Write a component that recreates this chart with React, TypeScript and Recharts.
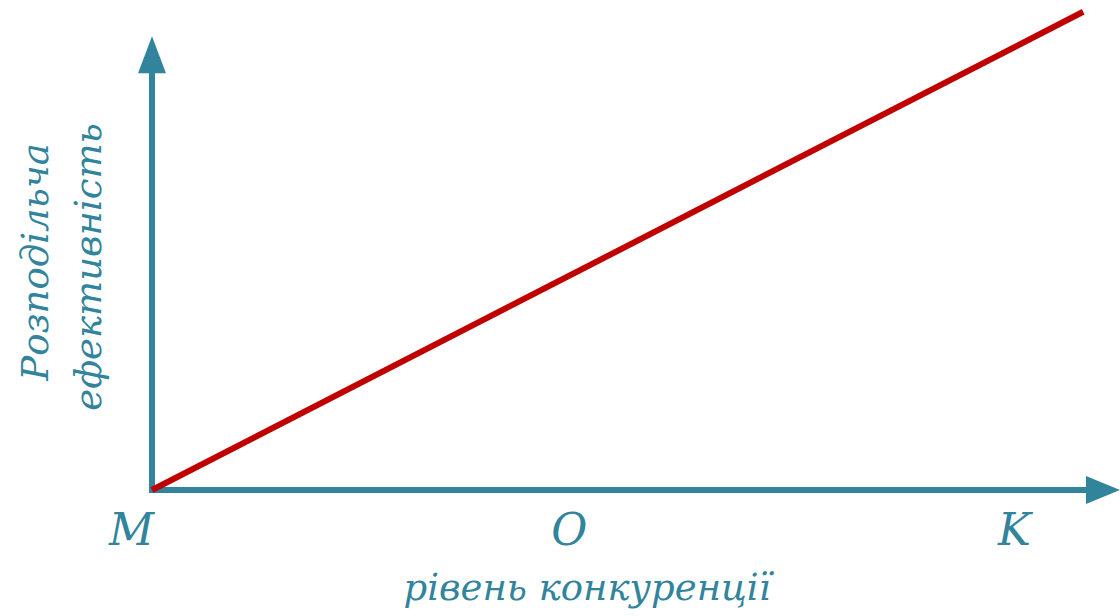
import React from "react";
import { LineChart, Line, XAxis, YAxis, ReferenceLine } from "recharts";

const TEAL = "#31849B";
const RED = "#C00000";
const FONT = "'DejaVu Serif', serif";

// x positions of the axis labels M, O, K
const tickValues = [0, 43.1, 89.1];
const tickLabels = ["M", "O", "K"];
const tickAnchors = ["end", "middle", "middle"];

// the red line: x and y values of its two ends
const lineX = [0, 96.2];
const lineY = [0, 97.6];
const data = lineX.map((x, i) => ({ x, y: lineY[i] }));

const yAxisTop = 92.6;
const xAxisEnd = 100;

const xTitle = "рівень конкуренції";
const yTitleLines = ["Розподільча", "ефективність"];

const textStyle: React.CSSProperties = {
  fontFamily: FONT,
  fontStyle: "italic",
  fontSize: 37,
  fill: TEAL,
};

const tickStyle: React.CSSProperties = { ...textStyle, fontSize: 44 };

const Tick = (props: any) => {
  const { x, y, index } = props;
  return (
    <text x={x + (index === 0 ? 2 : 0)} y={y} dy={47} textAnchor={tickAnchors[index]} style={tickStyle}>
      {tickLabels[index]}
    </text>
  );
};

const VArrow = (props: any) => {
  const { x1, y1, y2 } = props;
  const top = Math.min(y1, y2);
  const bottom = Math.max(y1, y2);
  const head = 37;
  return (
    <g>
      <line x1={x1} x2={x1} y1={bottom + 3} y2={top + head - 1} stroke={TEAL} strokeWidth={6} />
      <polygon points={`${x1},${top} ${x1 - 14},${top + head} ${x1 + 14},${top + head}`} fill={TEAL} />
    </g>
  );
};

const HArrow = (props: any) => {
  const { x1, y1, x2 } = props;
  const left = Math.min(x1, x2);
  const right = Math.max(x1, x2);
  const head = 34;
  return (
    <g>
      <line x1={left} x2={right - head + 1} y1={y1} y2={y1} stroke={TEAL} strokeWidth={6} />
      <polygon points={`${right},${y1} ${right - head},${y1 - 14} ${right - head},${y1 + 14}`} fill={TEAL} />
    </g>
  );
};

const XTitle = (props: any) => {
  const vb = props.viewBox;
  return (
    <text x={vb.x + vb.width / 2 - 49} y={vb.y + 110} textAnchor="middle" style={textStyle}>
      {xTitle}
    </text>
  );
};

const YTitle = (props: any) => {
  const vb = props.viewBox;
  const cy = 262;
  return (
    <g>
      <text transform={`translate(${vb.x + 48},${cy}) rotate(-90)`} textAnchor="middle" style={textStyle}>
        {yTitleLines[0]}
      </text>
      <text transform={`translate(${vb.x + 101},${cy + 5}) rotate(-90)`} textAnchor="middle" style={textStyle}>
        {yTitleLines[1]}
      </text>
    </g>
  );
};

export default function App() {
  return (
    <div style={{ position: "absolute", left: 0, top: 0, width: 1120, height: 616, background: "#fff" }}>
      <LineChart width={1120} height={616} data={data} margin={{ top: 0, right: 0, bottom: 0, left: 0 }}>
        <XAxis
          type="number"
          dataKey="x"
          domain={[0, 100]}
          ticks={tickValues}
          tick={<Tick />}
          tickLine={false}
          axisLine={false}
          height={126}
          interval={0}
          label={<XTitle />}
        />
        <YAxis
          type="number"
          domain={[0, 100]}
          width={152}
          tick={false}
          tickLine={false}
          axisLine={false}
          label={<YTitle />}
        />
        <ReferenceLine segment={[{ x: 0, y: 0 }, { x: 0, y: yAxisTop }]} ifOverflow="visible" shape={<VArrow />} />
        <ReferenceLine segment={[{ x: 0, y: 0 }, { x: xAxisEnd, y: 0 }]} ifOverflow="visible" shape={<HArrow />} />
        <Line type="linear" dataKey="y" stroke={RED} strokeWidth={6} dot={false} isAnimationActive={false} />
      </LineChart>
    </div>
  );
}
